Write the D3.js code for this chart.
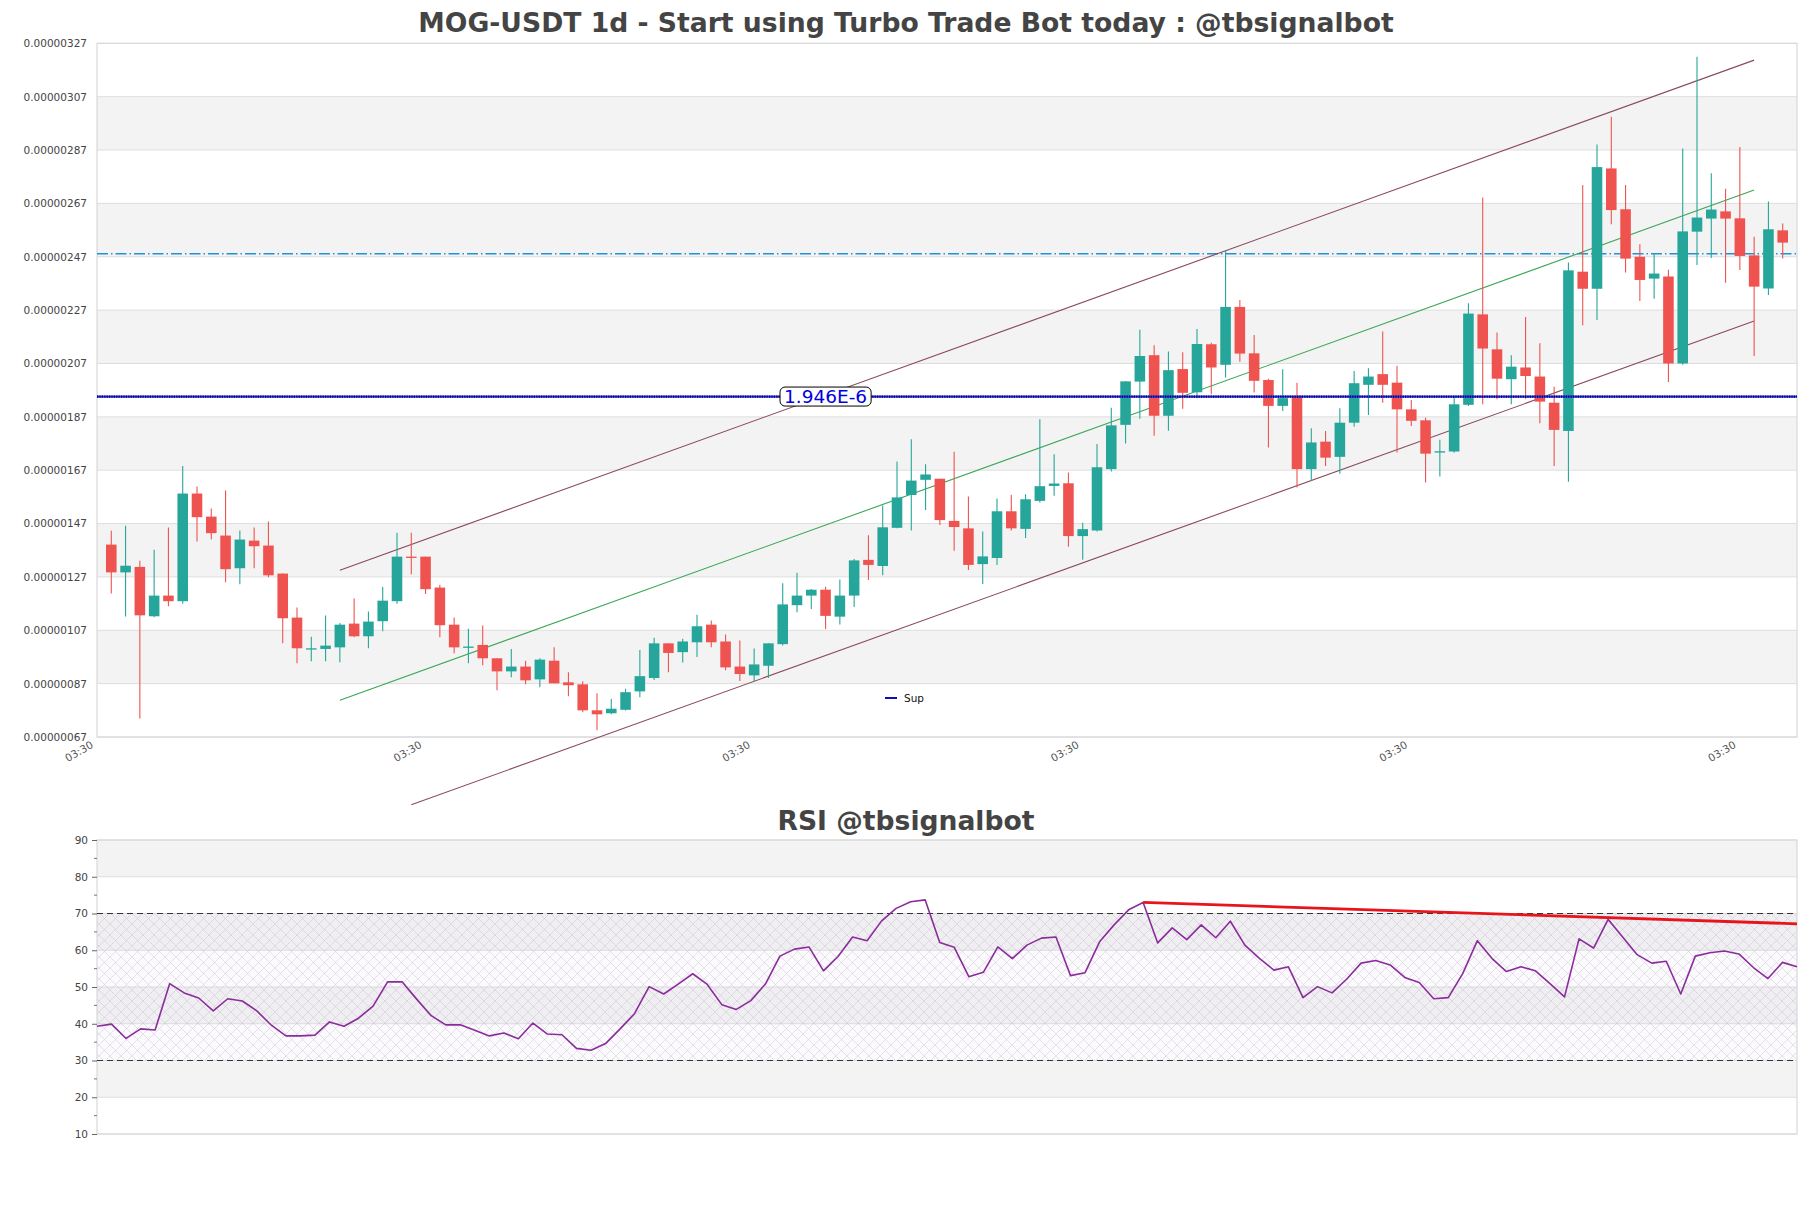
<!DOCTYPE html>
<html><head><meta charset="utf-8">
<script src="https://cdn.jsdelivr.net/npm/d3@7"></script>
<style>
body{margin:0;background:#fff}
svg{display:block}
text{font-family:"DejaVu Sans","Liberation Sans",sans-serif}
</style>
</head><body>
<svg id="c" width="1811" height="1208"></svg>
<script>
// ---- DATA (prices in units of 1e-6 USDT) ----
const UNIT = 1e-6;
const open = [1.391,1.287,1.3075,1.1225,1.200,1.179,1.5825,1.496,1.425,1.3025,1.406,1.3875,1.2825,1.1175,1.000,1.000,1.006,1.095,1.0475,1.104,1.179,1.346,1.346,1.230,1.091,1.006,1.015,0.965,0.916,0.934,0.886,0.956,0.875,0.8675,0.770,
0.759,0.772,0.841,0.891,1.021,0.988,1.025,1.091,1.028,0.934,0.901,0.937,1.018,1.164,1.200,1.222,1.121,1.200,1.334,1.311,1.454,1.577,1.634,1.638,1.480,1.452,1.318,1.341,1.516,1.450,1.555,1.611,1.621,1.423,1.444,1.674,1.840,2.002,2.101,1.874,2.049,1.962,
2.142,2.065,2.282,2.108,2.008,1.911,1.946,1.674,1.777,1.720,1.848,1.990,2.030,1.998,1.898,1.857,1.736,1.740,1.915,2.254,2.123,2.011,2.055,2.021,1.923,1.817,2.414,2.350,2.801,2.648,2.470,2.388,2.396,2.070,2.564,2.613,2.640,2.614,2.475,2.351,2.569];
const high = [1.443,1.462,1.331,1.372,1.455,1.686,1.609,1.526,1.594,1.444,1.455,1.4775,1.2825,1.155,1.046,1.125,1.0975,1.189,1.140,1.2325,1.436,1.436,1.346,1.241,1.1175,1.076,1.0875,0.965,1.000,0.956,0.965,1.006,0.9125,0.879,0.834,
0.812,0.851,0.996,1.042,1.021,1.038,1.128,1.107,1.054,1.032,1.002,1.021,1.246,1.286,1.225,1.233,1.260,1.337,1.426,1.538,1.703,1.786,1.692,1.638,1.739,1.571,1.440,1.564,1.578,1.580,1.861,1.730,1.661,1.473,1.768,1.904,2.003,2.196,2.138,2.115,2.112,2.199,
2.148,2.495,2.308,2.177,2.013,2.048,1.998,1.827,1.817,1.902,2.042,2.052,2.190,2.061,1.933,1.867,1.784,1.948,2.296,2.692,2.186,2.101,2.244,2.146,1.983,2.448,2.739,2.891,2.995,2.739,2.517,2.483,2.421,2.876,3.220,2.783,2.725,2.881,2.545,2.677,2.595];
const low = [1.208,1.122,0.739,1.119,1.160,1.169,1.4025,1.410,1.250,1.2425,1.3025,1.269,1.021,0.946,0.954,0.954,0.950,1.044,1.0025,1.066,1.169,1.280,1.206,1.044,0.984,0.946,0.939,0.845,0.894,0.8675,0.856,0.871,0.8225,0.7625,0.695,
0.755,0.769,0.819,0.884,0.913,0.949,0.970,1.006,0.920,0.880,0.880,0.891,1.013,1.138,1.150,1.075,1.092,1.157,1.258,1.276,1.452,1.444,1.521,1.465,1.368,1.296,1.243,1.315,1.444,1.416,1.549,1.574,1.383,1.334,1.440,1.665,1.770,1.863,1.799,1.818,1.900,1.940,
1.955,2.017,2.076,1.961,1.755,1.892,1.605,1.630,1.686,1.657,1.833,1.877,1.923,1.736,1.836,1.624,1.646,1.735,1.911,1.917,1.936,1.917,1.938,1.846,1.686,1.627,2.213,2.233,2.592,2.411,2.304,2.313,2.001,2.065,2.439,2.465,2.373,2.420,2.098,2.327,2.463];
const close = [1.287,1.312,1.126,1.200,1.179,1.5825,1.494,1.434,1.299,1.410,1.385,1.276,1.115,1.0025,1.0025,1.0125,1.091,1.0475,1.1025,1.181,1.346,1.344,1.224,1.089,1.006,1.009,0.965,0.916,0.934,0.8825,0.960,0.871,0.864,0.770,0.755,
0.776,0.838,0.898,1.021,0.985,1.028,1.085,1.025,0.931,0.906,0.942,1.021,1.167,1.200,1.222,1.124,1.200,1.332,1.315,1.456,1.568,1.631,1.654,1.483,1.457,1.315,1.347,1.516,1.452,1.561,1.610,1.620,1.423,1.449,1.681,1.838,2.003,2.098,1.874,2.045,1.960,2.143,
2.055,2.282,2.107,2.005,1.911,1.940,1.674,1.774,1.717,1.848,1.996,2.021,1.990,1.898,1.855,1.732,1.741,1.917,2.257,2.126,2.013,2.058,2.023,1.927,1.821,2.419,2.350,2.806,2.645,2.463,2.383,2.407,2.070,2.565,2.617,2.647,2.613,2.473,2.358,2.573,2.523];

const rsi = [39.3,39.9,36.0,38.6,38.3,50.9,48.4,47.0,43.5,46.8,46.2,43.5,39.6,36.7,36.7,36.9,40.5,39.3,41.5,44.8,51.4,51.4,46.7,42.2,39.7,39.7,38.2,36.7,37.5,35.9,40.2,37.2,37.0,33.3,32.8,
34.6,38.6,42.8,
50.1,48.1,50.8,53.6,50.7,45.2,43.9,46.3,50.8,58.4,60.3,60.9,54.4,58.3,63.6,62.6,68.0,71.4,73.2,73.7,62.1,60.8,52.8,54.0,60.9,57.7,61.4,63.3,63.6,53.1,53.9,62.3,
66.9,71.0,73.0,62.0,66.1,62.9,66.9,63.4,67.9,61.4,57.8,54.6,55.5,47.1,50.1,48.4,52.1,56.5,57.2,56.0,52.6,51.2,46.8,47.1,
53.7,62.6,57.8,54.2,55.5,54.4,50.9,47.3,63.1,60.6,68.4,63.6,58.8,56.5,57.0,48.1,58.4,59.3,59.8,59.0,55.3,52.3,56.7,55.5];

const priceTicks = [0.67,0.87,1.07,1.27,1.47,1.67,1.87,2.07,2.27,2.47,2.67,2.87,3.07,3.27];
const rsiTicks = [10,20,30,40,50,60,70,80,90];
const xTickIdx = [-1,22,45,68,91,114];
const xTickLabels = ["03:30","03:30","03:30","03:30","03:30","03:30"];

// channel lines: [index, price]
const upperLine = [[16,1.295],[115,3.207]];
const midLine   = [[16,0.8075],[115,2.720]];
const lowerLine = [[21,0.416],[115,2.229]];
const supLevel = 1.946;       // "Sup"
const resLevel = 2.481;       // dashed light-blue level
const supLabel = "1.946E-6";
const rsiTrend = [[72,73.0],[117,67.2]];
const rsiLevels = [70,30];

const titleMain = "MOG-USDT 1d - Start using Turbo Trade Bot today : @tbsignalbot";
const titleRsi = "RSI @tbsignalbot";

// ---- LAYOUT ----
const svg = d3.select("#c");
svg.append("rect").attr("width",1811).attr("height",1208).attr("fill","#fff");
const M = {left:97,right:1797,top:43.3,bottom:737};
const R = {top:840,bottom:1134};

const x = d3.scaleLinear().domain([-1,118]).range([M.left,M.right]);
const y = d3.scaleLinear().domain([priceTicks[0]*UNIT, priceTicks[priceTicks.length-1]*UNIT]).range([M.bottom,M.top]);
const xr = d3.scaleLinear().domain([0,rsi.length-1]).range([M.left,M.right]);
const yr = d3.scaleLinear().domain([10,90]).range([R.bottom,R.top]);

const candles = open.map((o,i)=>({i,o:o*UNIT,h:high[i]*UNIT,l:low[i]*UNIT,c:close[i]*UNIT}));

const defs = svg.append("defs");
const pat = defs.append("pattern").attr("id","hatch").attr("patternUnits","userSpaceOnUse")
  .attr("width",11).attr("height",11);
pat.append("path").attr("d","M0,0L11,11M11,0L0,11M-1,10L1,12M10,-1L12,1")
  .attr("stroke","#c9bcd3").attr("stroke-width",0.6).attr("fill","none").attr("opacity",0.7);

// ---- MAIN PANEL ----
const gm = svg.append("g");
for (let k=1;k<priceTicks.length-1;k+=2){
  gm.append("rect").attr("x",M.left).attr("width",M.right-M.left)
    .attr("y",y(priceTicks[k+1]*UNIT)).attr("height",y(priceTicks[k]*UNIT)-y(priceTicks[k+1]*UNIT))
    .attr("fill","#f3f3f3");
}
gm.selectAll("line.grid").data(priceTicks).join("line")
  .attr("x1",M.left).attr("x2",M.right)
  .attr("y1",d=>y(d*UNIT)).attr("y2",d=>y(d*UNIT))
  .attr("stroke","#dedede").attr("stroke-width",1);
gm.append("rect").attr("x",M.left).attr("y",M.top).attr("width",M.right-M.left).attr("height",M.bottom-M.top)
  .attr("fill","none").attr("stroke","#d9d9d9").attr("stroke-width",1.2);

const yAxis = d3.axisLeft(y).tickValues(priceTicks.map(d=>d*UNIT)).tickSize(0).tickPadding(10)
  .tickFormat(d=>d.toFixed(8));
const ya = gm.append("g").attr("transform",`translate(${M.left},0)`).call(yAxis);
ya.select(".domain").remove();
ya.selectAll("text").attr("font-size",10.5).attr("fill","#444").attr("font-family","DejaVu Sans");

// x tick labels
const xa = gm.append("g");
xTickIdx.forEach((t,k)=>{
  xa.append("text").attr("transform",`translate(${x(t)-3},${M.bottom+10}) rotate(-30)`)
    .attr("text-anchor","end").attr("font-size",10.5).attr("fill","#555").text(xTickLabels[k]);
});

// resistance dash-dot
gm.append("line").attr("x1",M.left).attr("x2",M.right)
  .attr("y1",y(resLevel*UNIT)).attr("y2",y(resLevel*UNIT))
  .attr("stroke","#1f93d8").attr("stroke-width",1.4).attr("stroke-dasharray","11,3,1.5,3");

// channel lines
const ln = d3.line().x(d=>x(d[0])).y(d=>y(d[1]*UNIT));
[[upperLine,"#8b4a5c"],[midLine,"#3aa657"],[lowerLine,"#8b4a5c"]].forEach(([d,c])=>{
  gm.append("path").attr("d",ln(d)).attr("fill","none").attr("stroke",c).attr("stroke-width",1.1);
});

// candles
const step = x(1)-x(0), bw = step*0.74;
const cg = gm.append("g");
cg.selectAll("line.w").data(candles).join("line")
  .attr("x1",d=>x(d.i)).attr("x2",d=>x(d.i))
  .attr("y1",d=>y(d.h)).attr("y2",d=>y(d.l))
  .attr("stroke",d=>d.c>=d.o?"#26a69a":"#ef5350").attr("stroke-width",1.1);
cg.selectAll("rect.b").data(candles).join("rect")
  .attr("x",d=>x(d.i)-bw/2).attr("width",bw)
  .attr("y",d=>y(Math.max(d.o,d.c)))
  .attr("height",d=>Math.max(1.3,Math.abs(y(d.o)-y(d.c))))
  .attr("fill",d=>d.c>=d.o?"#26a69a":"#ef5350");

// support line (dotted blue)
const ys = y(supLevel*UNIT);
gm.append("line").attr("x1",M.left).attr("x2",M.right).attr("y1",ys).attr("y2",ys)
  .attr("stroke","#3535e0").attr("stroke-width",2.2);
gm.append("line").attr("x1",M.left).attr("x2",M.right).attr("y1",ys).attr("y2",ys)
  .attr("stroke","#000080").attr("stroke-width",2.2).attr("stroke-dasharray","1.2,1.2");

// label box
const lbl = gm.append("g").attr("transform",`translate(${x(50)},${ys})`);
const lt = lbl.append("text").attr("text-anchor","middle").attr("dy","0.36em")
  .attr("font-size",18.5).attr("fill","#0000e0").text(supLabel);
const bb = lt.node().getBBox();
lbl.insert("rect","text").attr("x",bb.x-4).attr("y",-9.5).attr("width",bb.width+8).attr("height",19)
  .attr("rx",5).attr("fill","#fff").attr("stroke","#000").attr("stroke-width",1);

// legend
const lg = gm.append("g").attr("transform",`translate(885,697)`);
lg.append("line").attr("x1",0).attr("x2",12).attr("y1",1).attr("y2",1).attr("stroke","#1010b0").attr("stroke-width",2);
lg.append("text").attr("x",19).attr("y",1).attr("dy","0.35em").attr("font-size",10.5).attr("fill","#111").text("Sup");

// ---- RSI PANEL ----
const gr = svg.append("g");
for (let k=1;k<rsiTicks.length-1;k+=2){
  gr.append("rect").attr("x",M.left).attr("width",M.right-M.left)
    .attr("y",yr(rsiTicks[k+1])).attr("height",yr(rsiTicks[k])-yr(rsiTicks[k+1])).attr("fill","#f3f3f3");
}
gr.selectAll("line.g").data(rsiTicks).join("line")
  .attr("x1",M.left).attr("x2",M.right).attr("y1",d=>yr(d)).attr("y2",d=>yr(d))
  .attr("stroke","#dedede").attr("stroke-width",1);
gr.append("rect").attr("x",M.left).attr("width",M.right-M.left)
  .attr("y",yr(rsiLevels[0])).attr("height",yr(rsiLevels[1])-yr(rsiLevels[0]))
  .attr("fill","url(#hatch)");
gr.append("rect").attr("x",M.left).attr("width",M.right-M.left)
  .attr("y",yr(rsiLevels[0])).attr("height",yr(rsiLevels[1])-yr(rsiLevels[0]))
  .attr("fill","#b9a3c9").attr("opacity",0.05);
gr.append("rect").attr("x",M.left).attr("y",R.top).attr("width",M.right-M.left).attr("height",R.bottom-R.top)
  .attr("fill","none").attr("stroke","#d9d9d9").attr("stroke-width",1.2);
rsiLevels.forEach(v=>{
  gr.append("line").attr("x1",M.left).attr("x2",M.right).attr("y1",yr(v)).attr("y2",yr(v))
    .attr("stroke","#333").attr("stroke-width",1.1).attr("stroke-dasharray","6,4");
});
const ra = gr.append("g").attr("transform",`translate(${M.left},0)`)
  .call(d3.axisLeft(yr).tickValues(rsiTicks).tickSize(5).tickPadding(4));
ra.select(".domain").remove();
ra.selectAll("line").attr("stroke","#666");
ra.selectAll("text").attr("font-size",10.5).attr("fill","#444").attr("font-family","DejaVu Sans");
const minor = d3.range(15,90,10);
gr.selectAll("line.mn").data(minor).join("line")
  .attr("x1",M.left-3).attr("x2",M.left).attr("y1",d=>yr(d)).attr("y2",d=>yr(d))
  .attr("stroke","#777").attr("stroke-width",1);

gr.append("path").datum(rsi).attr("d",d3.line().x((d,i)=>xr(i)).y(d=>yr(d)))
  .attr("fill","none").attr("stroke","#8b2c9c").attr("stroke-width",1.6).attr("stroke-linejoin","round");
gr.append("path").datum(rsiTrend).attr("d",d3.line().x(d=>xr(d[0])).y(d=>yr(d[1])))
  .attr("fill","none").attr("stroke","#e8141c").attr("stroke-width",2.8);

// ---- TITLES ----
function fitTitle(txt, cx, cy, targetW){
  const t = svg.append("text").attr("x",cx).attr("y",cy).attr("text-anchor","middle")
    .attr("dominant-baseline","central").attr("font-weight","bold").attr("fill","#444")
    .attr("font-size",24).text(txt);
  const w = t.node().getComputedTextLength();
  t.attr("font-size",24*targetW/w);
}
fitTitle(titleMain, 906, 22, 976);
fitTitle(titleRsi, 906, 820, 257);
</script>
</body></html>
